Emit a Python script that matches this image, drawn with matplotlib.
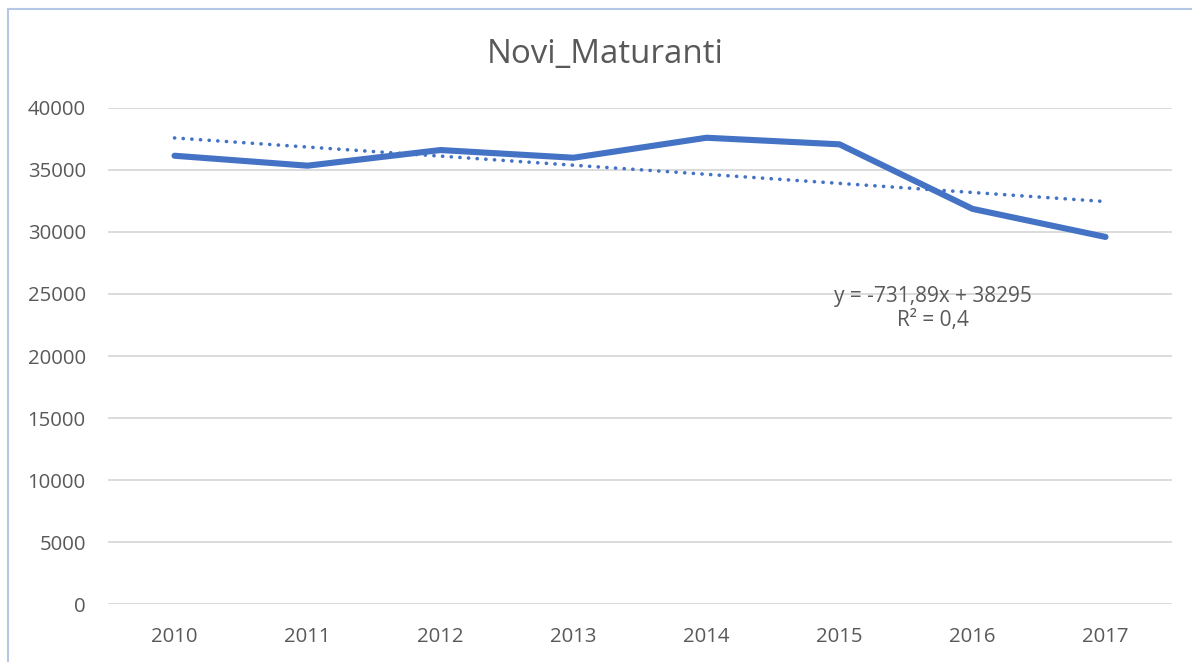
import numpy as np
import matplotlib
matplotlib.use('Agg')
import matplotlib.pyplot as plt
from matplotlib.patches import Rectangle

# values
years = ['2010', '2011', '2012', '2013', '2014', '2015', '2016', '2017']
maturanti = [36130, 35330, 36590, 35970, 37580, 37050, 31850, 29590]
trend_slope = -731.89
trend_intercept = 38295
trend_label = 'y = -731,89x + 38295\nR² = 0,4'

blue = '#4472C4'
grey_text = '#595959'

plt.rcParams['font.family'] = ['Open Sans', 'DejaVu Sans']

fig = plt.figure(figsize=(11.92, 6.62), dpi=100)
ax = fig.add_axes([108/1192, 1 - 604.3/662, (1172 - 108)/1192, (604.3 - 107.7)/662])

x = np.arange(1, len(years) + 1)
ax.plot(x, maturanti, color=blue, lw=4.4, solid_capstyle='round', solid_joinstyle='round', zorder=3)

# linear trendline as Excel computes it (x = 1..n)
trend = trend_slope * x + trend_intercept
ax.plot(x, trend, color=blue, lw=2.6, linestyle=(0, (0.05, 2.35)), dash_capstyle='round', zorder=2)

ax.text(6.7, 25650, trend_label, ha='center', va='top', fontsize=15, color=grey_text, linespacing=1.2)

ax.set_xlim(0.5, 8.5)
ax.set_ylim(0, 40000)
ax.set_yticks(np.arange(0, 40001, 5000))
ax.set_xticks(x)
ax.set_xticklabels(years)
ax.tick_params(axis='both', length=0, labelsize=14.7, colors=grey_text)
ax.tick_params(axis='y', pad=16)
ax.tick_params(axis='x', pad=16)
ax.grid(axis='y', color='#D9D9D9', lw=1.3)
ax.set_axisbelow(True)
for s in ax.spines.values():
    s.set_visible(False)

fig.text(605/1192, 1 - 54/662, 'Novi_Maturanti', ha='center', va='center', fontsize=23.8, color=grey_text)

# light blue chart-area border (left and top edges visible)
fig.patches.append(Rectangle((8/1192, -0.1), 1.2, 1 - 9/662 + 0.1, transform=fig.transFigure,
                             fill=False, edgecolor='#B4C7E7', lw=1.5))

fig.savefig('out.png', dpi=100)
